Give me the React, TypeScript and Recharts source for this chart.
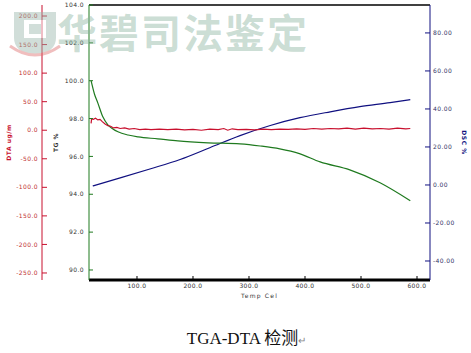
import React from "react";
import { LineChart, Line, XAxis, YAxis, ReferenceLine } from "recharts";

// temperature (Cel) samples for each trace
const tgTemp = [18, 24, 30, 39, 48, 57, 66, 84, 102, 137, 173, 227, 284, 320, 355, 390, 427, 480, 534, 588];
const tgValue = [100.0, 99.3, 98.83, 98.09, 97.67, 97.45, 97.3, 97.13, 97.03, 96.93, 96.82, 96.72, 96.66, 96.55, 96.4, 96.15, 95.71, 95.29, 94.61, 93.66];

const dtaTemp = [18, 19, 22, 26, 30, 34, 38, 43, 48, 53, 58, 64, 70, 78, 86, 95, 105, 115, 125, 140, 155, 170, 185, 200, 215, 230, 245, 255, 262, 270, 280, 295, 310, 325, 340, 355, 370, 385, 400, 415, 430, 445, 460, 475, 490, 505, 520, 535, 550, 565, 580, 588];
const dtaValue = [12, 20, 19, 21, 18, 19, 15, 11, 8, 7, 4, 5, 3, 4, 2, 3, 1, 2, 1, 2, 1, 2, 0.5, 1.5, 0, 2, 1, 3, 0, 2.5, 1, 1.5, 0.5, 2, 1, 2, 1.5, 2.5, 1.5, 3, 2, 3, 2.5, 3.5, 2, 3.5, 2.5, 3, 2, 3.5, 2.5, 3];

const dscTemp = [21, 70, 123, 177, 230, 284, 338, 391, 445, 498, 552, 588];
const dscValue = [-0.5, 3.7, 8.4, 13.4, 19.6, 26.0, 31.3, 35.4, 38.5, 41.2, 43.3, 44.9];

const xTicks = [100, 200, 300, 400, 500, 600];
const tgTicks = [90, 92, 94, 96, 98, 100, 102, 104];
const dtaTicks = [-250, -200, -150, -100, -50, 0, 50, 100, 150, 200];
const dscTicks = [-40, -20, 0, 20, 40, 60, 80];

const tgData = tgTemp.map((t, i) => ({ t, v: tgValue[i] }));
const dtaData = dtaTemp.map((t, i) => ({ t, v: dtaValue[i] }));
const dscData = dscTemp.map((t, i) => ({ t, v: dscValue[i] }));

const RED = "#c8102e";
const GREEN = "#1f7a1f";
const BLUE = "#101080";
const tickFont = { fontSize: 6, fontFamily: "DejaVu Sans", letterSpacing: 0.4 };

// axis ids: "a1" sits next to the plot, "a2" further out
const TG = "a1";
const DTA = "a2";
const DSC = "b1";

// rotated axis title, centred on the axis height
const axisTitle = (text: string, dx: number, color: string, angle: number) => (props: any) => {
  const vb = props.viewBox || {};
  const x = vb.x + dx;
  const y = vb.y + vb.height / 2;
  return (
    <text
      x={x}
      y={y}
      transform={`rotate(${angle} ${x} ${y})`}
      textAnchor="middle"
      dominantBaseline="central"
      fill={color}
      fontSize={6}
      fontFamily="DejaVu Sans"
      fontWeight="bold"
      letterSpacing={0.5}
    >
      {text}
    </text>
  );
};

export default function App() {
  return (
    <div style={{ position: "relative", width: 471, height: 353, background: "#fff" }}>
      <style>{`body{margin:0}`}</style>
      <LineChart width={471} height={310} margin={{ top: 5, right: 0, bottom: 0, left: 0 }}>
        <XAxis
          type="number"
          dataKey="t"
          domain={[14.3, 623.2]}
          allowDataOverflow
          ticks={xTicks}
          tickFormatter={(v) => v.toFixed(1)}
          height={30}
          stroke="#000"
          axisLine={{ stroke: "#000", strokeWidth: 3 }}
          tickSize={-4}
          tickMargin={8}
          tick={{ ...tickFont, fill: "#333" }}
          label={{ value: "Temp Cel", position: "insideBottom", offset: 12, style: { ...tickFont, fill: "#333", letterSpacing: 1.2 } }}
        />
        <YAxis
          yAxisId={TG}
          orientation="left"
          type="number"
          width={47}
          domain={[89.47, 104]}
          allowDataOverflow
          ticks={tgTicks}
          tickFormatter={(v) => v.toFixed(1)}
          stroke={GREEN}
          tickSize={-4}
          tickMargin={9}
          tick={{ ...tickFont, fill: "#333" }}
          label={{ content: axisTitle("TG %", 13, "#333", -90) }}
        />
        <YAxis
          yAxisId={DTA}
          orientation="left"
          type="number"
          width={42}
          domain={[-262.3, 219.3]}
          allowDataOverflow
          ticks={dtaTicks}
          tickFormatter={(v) => v.toFixed(1)}
          stroke={RED}
          tickSize={-5}
          tickMargin={9}
          tick={{ ...tickFont, fill: "#c03030" }}
          label={{ content: axisTitle("DTA ug/m", 8, RED, -90) }}
        />
        <YAxis
          yAxisId={DSC}
          orientation="right"
          type="number"
          width={41}
          domain={[-50, 94.7]}
          allowDataOverflow
          ticks={dscTicks}
          tickFormatter={(v) => v.toFixed(2)}
          stroke={BLUE}
          tickSize={-5}
          tickMargin={8}
          tick={{ ...tickFont, fill: "#333366" }}
          label={{ content: axisTitle("DSC %", 34, BLUE, 90) }}
        />
        <ReferenceLine yAxisId={TG} y={104} stroke="#000" strokeWidth={1.5} />
        <Line yAxisId={DSC} data={dscData} dataKey="v" type="monotone" stroke={BLUE} strokeWidth={1.2} dot={false} isAnimationActive={false} />
        <Line yAxisId={TG} data={tgData} dataKey="v" type="monotone" stroke={GREEN} strokeWidth={1.2} dot={false} isAnimationActive={false} />
        <Line yAxisId={DTA} data={dtaData} dataKey="v" type="linear" stroke={RED} strokeWidth={1.2} dot={false} isAnimationActive={false} />
      </LineChart>

      {/* watermark */}
      <div style={{ position: "absolute", left: 8, top: 8, pointerEvents: "none", opacity: 0.45 }}>
        <svg width={54} height={50}>
          <path d="M6 4 H48 V30 Q48 44 27 48 Q6 44 6 30 Z" fill="#9ab8ac" />
          <rect x={16} y={12} width={22} height={18} fill="#fff" />
          <rect x={21} y={16} width={12} height={10} fill="#9ab8ac" />
          <path d="M2 38 Q27 56 52 38" stroke="#e07070" strokeWidth={3} fill="none" />
        </svg>
      </div>
      <div
        style={{
          position: "absolute",
          left: 57,
          top: 7,
          fontSize: 40,
          fontWeight: "bold",
          letterSpacing: 2,
          fontFamily: "'Noto Sans CJK SC'",
          color: "rgba(140,180,160,0.45)",
          pointerEvents: "none",
          whiteSpace: "nowrap",
          lineHeight: "48px",
        }}
      >
        华碧司法鉴定
      </div>

      {/* caption */}
      <div
        style={{
          position: "absolute",
          left: 0,
          width: 471,
          top: 324,
          textAlign: "center",
          fontSize: 17,
          fontFamily: "'Liberation Serif', 'Noto Sans CJK SC'",
          color: "#111",
          paddingLeft: 22,
          boxSizing: "border-box",
        }}
      >
        TGA-DTA 检测<span style={{ fontSize: 10, color: "#888" }}>↵</span>
      </div>
    </div>
  );
}
